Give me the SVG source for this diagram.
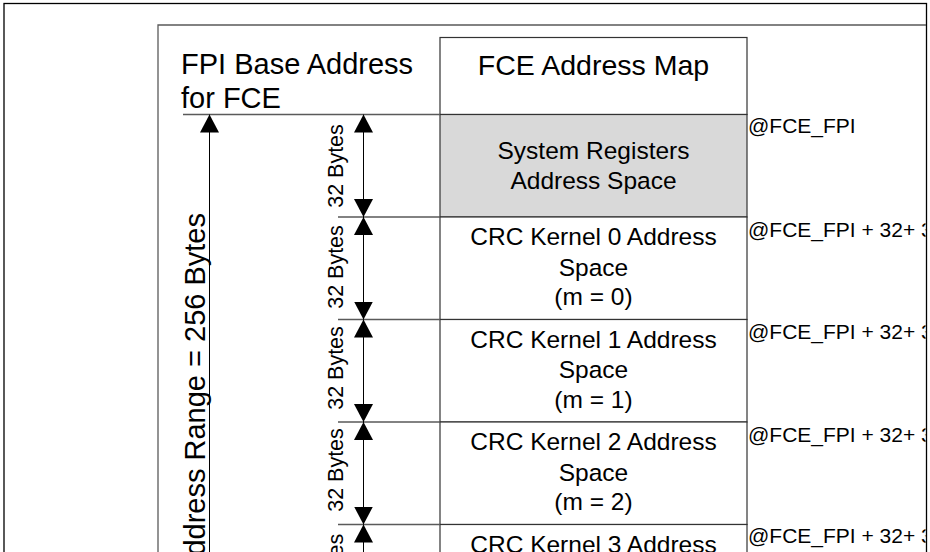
<svg xmlns="http://www.w3.org/2000/svg" width="930" height="552" viewBox="0 0 930 552">
<style>
text{font-family:"Liberation Sans",Arial,sans-serif;fill:#000}
.frame{fill:none;stroke:#000;stroke-width:1.3}
.gline{fill:none;stroke:#5a5a5a;stroke-width:1.3}
.box{fill:#fff;stroke:#333;stroke-width:1.2}
.sys{fill:#d9d9d9;stroke:#333;stroke-width:1.2}
.arr{fill:none;stroke:#000;stroke-width:1;marker-start:url(#ah);marker-end:url(#ah)}
.big{font-size:29px}
.head{font-size:28.5px}
.cell{font-size:24.5px;text-anchor:middle}
.sz{font-size:21.5px;text-anchor:middle}
.addr{font-size:21px}
</style>
<defs>
<marker id="ah" markerWidth="18" markerHeight="19" refX="18" refY="9.5" orient="auto-start-reverse" markerUnits="userSpaceOnUse">
<path d="M0,0 L18,9.5 L0,19 z" fill="#000"/>
</marker>
<clipPath id="clipR"><rect x="0" y="0" width="925.5" height="552"/></clipPath>
</defs>
<rect x="0" y="0" width="930" height="552" fill="#fff"/>
<rect class="frame" x="4" y="3.5" width="922.5" height="600"/>
<path class="gline" d="M158,610 V25 H926"/>

<g id="title">
<text class="big" x="181" y="74">FPI Base Address</text>
<text class="big" x="181" y="108">for FCE</text>
</g>

<g id="range-label">
<text class="big" text-anchor="end" transform="translate(205,213) rotate(-90)">Address Range = 256 Bytes</text>
</g>

<g id="header">
<rect class="box" x="440" y="37.5" width="307" height="77"/>
<text class="head" x="593.5" y="75" text-anchor="middle">FCE Address Map</text>
</g>

<g id="sysreg">
<rect class="sys" x="440" y="114.5" width="307" height="102.5"/>
<text class="cell" x="593.5" y="159">System Registers</text>
<text class="cell" x="593.5" y="189">Address Space</text>
<text class="sz" transform="translate(343,166) rotate(-90)">32 Bytes</text>
<text class="addr" x="748" y="132.5" clip-path="url(#clipR)">@FCE_FPI</text>
</g>

<g id="kernel0">
<rect class="box" x="440" y="217" width="307" height="102.5"/>
<text class="cell" x="593.5" y="245">CRC Kernel 0 Address</text>
<text class="cell" x="593.5" y="275.5">Space</text>
<text class="cell" x="593.5" y="305">(m = 0)</text>
<text class="sz" transform="translate(343,267) rotate(-90)">32 Bytes</text>
<text class="addr" x="748" y="236.5" clip-path="url(#clipR)">@FCE_FPI + 32+ 3</text>
</g>

<g id="kernel1">
<rect class="box" x="440" y="319.5" width="307" height="102.5"/>
<text class="cell" x="593.5" y="347.5">CRC Kernel 1 Address</text>
<text class="cell" x="593.5" y="378">Space</text>
<text class="cell" x="593.5" y="407.5">(m = 1)</text>
<text class="sz" transform="translate(343,368) rotate(-90)">32 Bytes</text>
<text class="addr" x="748" y="339" clip-path="url(#clipR)">@FCE_FPI + 32+ 3</text>
</g>

<g id="kernel2">
<rect class="box" x="440" y="422" width="307" height="102.5"/>
<text class="cell" x="593.5" y="450">CRC Kernel 2 Address</text>
<text class="cell" x="593.5" y="480.5">Space</text>
<text class="cell" x="593.5" y="510">(m = 2)</text>
<text class="sz" transform="translate(343,470) rotate(-90)">32 Bytes</text>
<text class="addr" x="748" y="441.5" clip-path="url(#clipR)">@FCE_FPI + 32+ 3</text>
</g>

<g id="kernel3">
<rect class="box" x="440" y="524.5" width="307" height="102.5"/>
<text class="cell" x="593.5" y="552.5">CRC Kernel 3 Address</text>
<text class="sz" transform="translate(343,575.5) rotate(-90)">32 Bytes</text>
<text class="addr" x="748" y="543" clip-path="url(#clipR)">@FCE_FPI + 32+ 3</text>
</g>

<g id="connectors">
<path class="gline" d="M183,114.5 H440 M338,217 H440 M338,319.5 H440 M338,422 H440 M338,524.5 H440"/>
<line class="arr" x1="209.5" y1="114.5" x2="209.5" y2="640"/>
<line class="arr" x1="363.5" y1="114.5" x2="363.5" y2="217"/>
<line class="arr" x1="363.5" y1="217" x2="363.5" y2="319.5"/>
<line class="arr" x1="363.5" y1="319.5" x2="363.5" y2="422"/>
<line class="arr" x1="363.5" y1="422" x2="363.5" y2="524.5"/>
<line class="arr" x1="363.5" y1="524.5" x2="363.5" y2="627"/>
</g>
</svg>
